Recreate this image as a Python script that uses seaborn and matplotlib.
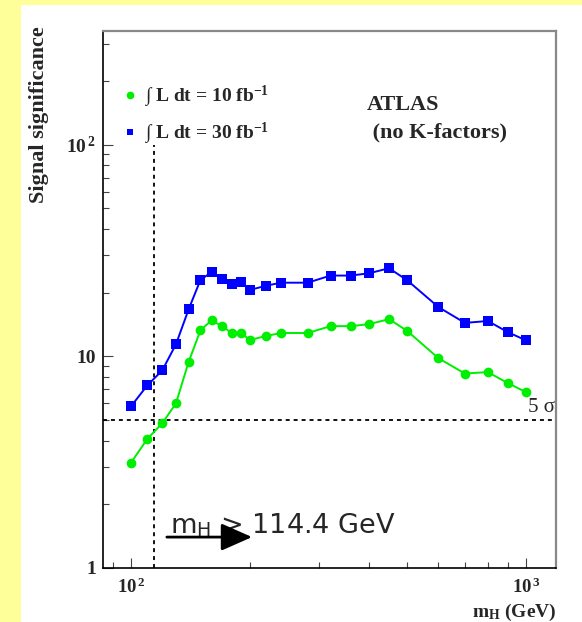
import numpy as np
import pandas as pd
import matplotlib
matplotlib.use("Agg")
import matplotlib.pyplot as plt
import matplotlib.ticker as mticker
import matplotlib.transforms as mtransforms
from matplotlib.lines import Line2D
from matplotlib.patches import Rectangle
import seaborn as sns

# ---- data ----
mass = [100, 110, 120, 130, 140, 150, 160, 170, 180, 190, 200, 220, 240,
        280, 320, 360, 400, 450, 500, 600, 700, 800, 900, 1000]
sig_10fb = [3.14, 4.07, 4.83, 5.99, 9.43, 13.3, 14.8, 13.9, 12.9, 12.9, 11.95,
            12.5, 12.9, 12.9, 13.9, 13.9, 14.2, 15.0, 13.2, 9.8, 8.3, 8.43,
            7.47, 6.77]
sig_30fb = [5.8, 7.29, 8.58, 11.4, 16.7, 23.0, 25.0, 23.2, 22.0, 22.4, 20.6,
            21.6, 22.3, 22.3, 24.1, 24.1, 24.7, 26.1, 22.9, 17.1, 14.4, 14.7,
            13.0, 11.9]
series_labels = [r"$\int$ L dt = 10 fb$^{-1}$", r"$\int$ L dt = 30 fb$^{-1}$"]
lep_limit = 114.4
five_sigma = 5
x_ticks = [100, 1000]
x_ticklabels = [r"$10^{\,2}$", r"$10^{\,3}$"]
y_ticks = [1, 10, 100]
y_ticklabels = ["1", "10", r"$10^{\,2}$"]

df = pd.DataFrame({"mass": mass, "s10": sig_10fb, "s30": sig_30fb})

sns.set_style("ticks")
plt.rcParams["font.family"] = ["Liberation Serif", "DejaVu Serif"]
plt.rcParams["font.weight"] = "bold"
plt.rcParams["mathtext.fontset"] = "custom"
plt.rcParams["mathtext.rm"] = "Liberation Serif:bold"
plt.rcParams["mathtext.it"] = "Liberation Serif:bold"
plt.rcParams["mathtext.bf"] = "Liberation Serif:bold"
plt.rcParams["mathtext.sf"] = "DejaVu Sans:weight=normal"
plt.rcParams["mathtext.default"] = "rm"

W, H = 582, 622
fig = plt.figure(figsize=(W / 100, H / 100), dpi=100, facecolor="#ffff99")
fig.patches.append(Rectangle((21 / W, 0), 1 - 21 / W, 1 - 4.5 / H,
                             transform=fig.transFigure, facecolor="white",
                             edgecolor="none", zorder=-10))
ax = fig.add_axes([103 / W, 1 - 568 / H, (556 - 103) / W, (568 - 31) / H])
ax.set_facecolor("white")

green = "#00ee00"
blue = "#0000ff"
sns.lineplot(data=df, x="mass", y="s10", ax=ax, color=green, marker="o",
             markersize=7, markeredgewidth=0, linewidth=1.4, zorder=3)
sns.lineplot(data=df, x="mass", y="s30", ax=ax, color=blue, marker="s",
             markersize=6.5, markeredgewidth=0, linewidth=1.4, zorder=3)

ax.set_xscale("log")
ax.set_yscale("log")
ax.set_xlim(85, 1190)
ax.set_ylim(1, 345)

# dashed reference lines
ax.vlines(lep_limit, 1, 100, colors="black", linestyles=(0, (2.2, 2.2)),
          linewidth=1.3, zorder=2)
ax.axhline(five_sigma, color="black", linestyle=(0, (2.2, 2.2)),
           linewidth=1.3, zorder=2)
blend = mtransforms.blended_transform_factory(ax.transAxes, ax.transData)
ax.text(0.997, five_sigma * 1.03, "5 σ", transform=blend, ha="right",
        va="bottom", fontsize=15, fontweight="normal")

# ticks
ax.xaxis.set_major_locator(mticker.FixedLocator(x_ticks))
ax.xaxis.set_major_formatter(mticker.FixedFormatter(x_ticklabels))
ax.xaxis.set_minor_locator(mticker.LogLocator(base=10, subs=np.arange(2, 10)))
ax.xaxis.set_minor_formatter(mticker.NullFormatter())
ax.yaxis.set_major_locator(mticker.FixedLocator(y_ticks))
ax.yaxis.set_major_formatter(mticker.FixedFormatter(y_ticklabels))
ax.yaxis.set_minor_locator(mticker.LogLocator(base=10, subs=np.arange(2, 10)))
ax.yaxis.set_minor_formatter(mticker.NullFormatter())
ax.tick_params(axis="both", which="both", direction="in", top=False,
               right=False, color="#444444", labelsize=14)
ax.tick_params(axis="both", which="major", length=7, width=0.8)
ax.tick_params(axis="both", which="minor", length=4, width=0.8)
ax.tick_params(axis="x", which="major", pad=7, labelsize=13.5)
ax.tick_params(axis="y", which="major", pad=5)

for s in ["left", "bottom"]:
    ax.spines[s].set_color("black")
    ax.spines[s].set_linewidth(1.2)
for s in ["top", "right"]:
    ax.spines[s].set_color("#888888")
    ax.spines[s].set_linewidth(1.6)

# axis labels
ax.set_xlabel(r"m$_{\rm H}$ (GeV)", fontsize=14, fontweight="bold")
ax.xaxis.set_label_coords(1.0, (568 - 612) / (568 - 31))
ax.xaxis.label.set_ha("right")
ax.xaxis.label.set_va("center")
ax.set_ylabel("Signal significance", fontsize=16, fontweight="bold")
ax.yaxis.set_label_coords((39 - 103) / (556 - 103), (568 - 26) / (568 - 31))
ax.yaxis.label.set_ha("right")
ax.yaxis.label.set_va("center")

# legend
handles = [Line2D([], [], color=green, marker="o", linestyle="none",
                  markersize=5.5, markeredgewidth=0),
           Line2D([], [], color=blue, marker="s", linestyle="none",
                  markersize=5, markeredgewidth=0)]
ax.legend(handles, series_labels, loc="upper left",
          bbox_to_anchor=((122 - 103) / 453, 1 - (84 - 31) / 537),
          frameon=False, handlelength=0.8, handletextpad=0.35,
          labelspacing=0.55, borderaxespad=0, borderpad=0,
          prop={"weight": "bold", "size": 14})

ax.text((367 - 103) / 453, 1 - (95 - 31) / 537, "ATLAS\n (no K-factors)",
        transform=ax.transAxes, ha="left", va="top", fontsize=16,
        fontweight="bold", linespacing=1.5)

# LEP limit annotation
ax.annotate("", xy=(202.5, 1.40), xytext=(123.3, 1.40),
            arrowprops=dict(arrowstyle="-|>,head_length=0.95,head_width=0.42",
                            color="black", lw=2, mutation_scale=20,
                            shrinkA=0, shrinkB=0), zorder=4)
ax.text(125.5, 1.465, r"m$_{\mathsf{H}}$ > 114.4 GeV",
        fontsize=19.5, fontweight="normal",
        family=["DejaVu Sans"], ha="left", va="baseline", zorder=3)

fig.savefig("out.png", dpi=100, facecolor=fig.get_facecolor())
